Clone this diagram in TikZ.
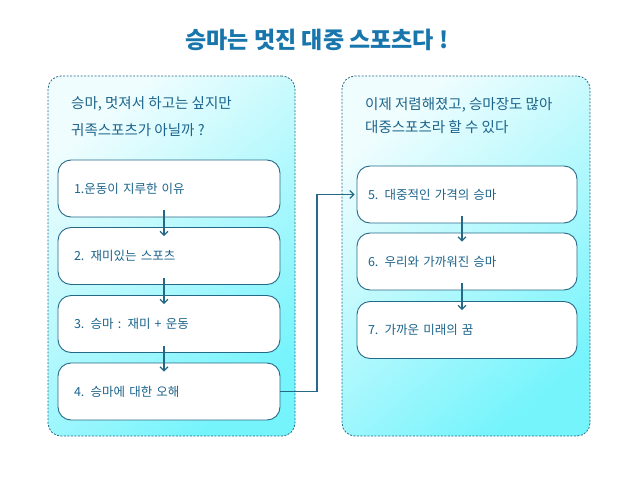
\documentclass[tikz,border=0pt]{standalone}
\usepackage{fontspec}
\setmainfont{Noto Sans CJK KR}
\usetikzlibrary{arrows.meta}
\definecolor{ttl}{RGB}{24,118,172}
\definecolor{ink}{RGB}{28,100,140}
\definecolor{edge}{RGB}{38,105,135}
\definecolor{pnlA}{RGB}{240,253,254}
\definecolor{pnlB}{RGB}{118,244,252}
\tikzset{
  panel/.style={draw=edge, line width=0.8pt, dash pattern=on 2pt off 1.5pt,
    rounded corners=13pt, top color=pnlA, bottom color=pnlB, shading angle=40,
    minimum height=360, inner sep=0pt},
  box/.style={draw=edge, line width=0.9pt, fill=white, rounded corners=13pt,
    minimum height=57, align=left, text=ink, font=\fontsize{12.5}{14}\selectfont, inner ysep=0pt},
  lbox/.style={box, minimum width=222, inner xsep=16pt, text width=190pt},
  rbox/.style={box, minimum width=220, inner xsep=11pt, text width=198pt},
  hdr/.style={anchor=west, text=ink, font=\fontsize{14.5}{16}\selectfont, inner sep=0pt},
  ttlsty/.style={text=ttl, font=\fontsize{23}{26}\selectfont\bfseries},
  arr/.style={draw=edge, line width=1.1pt, -{Straight Barb[length=4pt,width=8pt]}}
}
\begin{document}
\begin{tikzpicture}[x=1pt,y=-1pt]
\useasboundingbox (0,0) rectangle (638,479);
\node[ttlsty] (title) at (317,40) {승마는 멋진 대중 스포츠다 !};

\node[panel, minimum width=247] (P1) at (171.5,256) {};
\node[panel, minimum width=248] (P2) at (466,256) {};

\node[hdr] (h1a) at (71,104) {승마, 멋져서 하고는 싶지만};
\node[hdr] (h1b) at (71,130) {귀족스포츠가 아닐까 ?};
\node[hdr] (h2a) at (365,105) {이제 저렴해졌고, 승마장도 많아};
\node[hdr] (h2b) at (365,127) {대중스포츠라 할 수 있다};

\node[lbox] (b1) at (169,188.5) {1.운동이 지루한 이유};
\node[lbox] (b2) at (169,256) {2. 재미있는 스포츠};
\node[lbox] (b3) at (169,324) {3. 승마 : 재미 + 운동};
\node[lbox] (b4) at (169,391.5) {4. 승마에 대한 오해};

\node[rbox] (b5) at (467,194.5) {5. 대중적인 가격의 승마};
\node[rbox] (b6) at (467,261.5) {6. 우리와 가까워진 승마};
\node[rbox] (b7) at (467,330) {7. 가까운 미래의 꿈};

\draw[arr] ([xshift=-5pt,yshift=7pt]b1.south) -- ([xshift=-5pt,yshift=-9pt]b2.north);
\draw[arr] ([xshift=-5pt,yshift=7pt]b2.south) -- ([xshift=-5pt,yshift=-9pt]b3.north);
\draw[arr] ([xshift=-5pt,yshift=7pt]b3.south) -- ([xshift=-5pt,yshift=-9pt]b4.north);
\draw[arr] ([xshift=-5pt,yshift=7pt]b5.south) -- ([xshift=-5pt,yshift=-9pt]b6.north);
\draw[arr] ([xshift=-5pt,yshift=7pt]b6.south) -- ([xshift=-5pt,yshift=-9pt]b7.north);

\coordinate (elbow) at (317,300);
\draw[arr] (b4.east) -- (b4.east -| elbow) |- ([xshift=-2pt]b5.west);
\end{tikzpicture}
\end{document}
